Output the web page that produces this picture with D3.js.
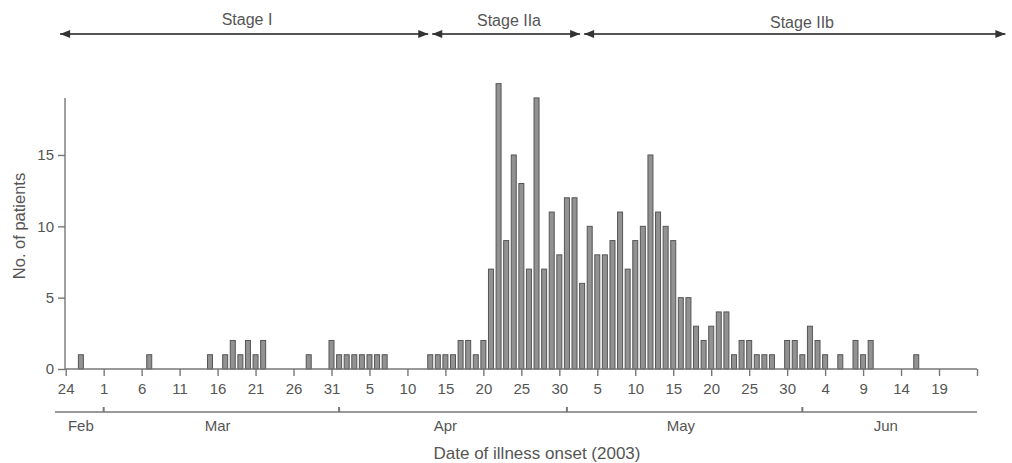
<!DOCTYPE html>
<html>
  <head>
    <title>SARS epidemic curve, Taiwan 2003</title>
    <meta charset="utf-8">
    <script type="text/javascript" src="https://d3js.org/d3.v7.min.js"></script>
    <style>
      body { margin: 0; background: #fff; }
      svg text { font-family: "Liberation Sans", Arial, sans-serif; fill: #555; }
    </style>
  </head>

  <body>
    <svg></svg>

    <script type="text/javascript">
      "use strict";

      // onset dates (2003) and number of patients on that day
      var onsetDates = [
        '02-26', '03-07', '03-15', '03-17', '03-18', '03-19', '03-20', '03-21', '03-22',
        '03-28', '03-31', '04-01', '04-02', '04-03', '04-04', '04-05', '04-06', '04-07',
        '04-13', '04-14', '04-15', '04-16', '04-17', '04-18', '04-19', '04-20', '04-21',
        '04-22', '04-23', '04-24', '04-25', '04-26', '04-27', '04-28', '04-29', '04-30',
        '05-01', '05-02', '05-03', '05-04', '05-05', '05-06', '05-07', '05-08', '05-09',
        '05-10', '05-11', '05-12', '05-13', '05-14', '05-15', '05-16', '05-17', '05-18',
        '05-19', '05-20', '05-21', '05-22', '05-23', '05-24', '05-25', '05-26', '05-27',
        '05-28', '05-30', '05-31', '06-01', '06-02', '06-03', '06-04', '06-06', '06-08',
        '06-09', '06-10', '06-16'
      ];
      var patients = [
        1, 1, 1, 1, 2, 1, 2, 1, 2,
        1, 2, 1, 1, 1, 1, 1, 1, 1,
        1, 1, 1, 1, 2, 2, 1, 2, 7,
        20, 9, 15, 13, 7, 19, 7, 11, 8,
        12, 12, 6, 10, 8, 8, 9, 11, 7,
        9, 10, 15, 11, 10, 9, 5, 5, 3,
        2, 3, 4, 4, 1, 2, 2, 1, 1,
        1, 2, 2, 1, 3, 2, 1, 1, 2,
        1, 2, 1
      ];

      // day ticks every 5 days, the last one has no label
      var dayTicks = [
        '02-24', '03-01', '03-06', '03-11', '03-16', '03-21', '03-26', '03-31',
        '04-05', '04-10', '04-15', '04-20', '04-25', '04-30', '05-05', '05-10',
        '05-15', '05-20', '05-25', '05-30', '06-04', '06-09', '06-14', '06-19', '06-24'
      ];
      var monthTicks = ['03-01', '04-01', '05-01', '06-01'];
      var monthNames = ['Feb', 'Mar', 'Apr', 'May', 'Jun'];
      var monthLabelAt = ['02-26', '03-16', '04-15', '05-16', '06-12'];
      var yTicks = [0, 5, 10, 15];

      var stageNames = ['Stage I', 'Stage IIa', 'Stage IIb'];
      var stageStart = ['02-23', '04-13', '05-03'];
      var stageEnd = ['04-13', '05-03', '06-28'];

      var parse = function(s) { return d3.timeParse('%Y-%m-%d')('2003-' + s); };

      var width = 1012, height = 463;
      var svg = d3.select('svg')
                  .attr('width', width)
                  .attr('height', height);

      var x = d3.scaleTime()
                .domain([parse('02-24'), parse('06-24')])
                .range([65.7, 977]);
      var y = d3.scaleLinear()
                .domain([0, 19])
                .range([369, 97.9]);

      var axisColor = '#777';
      var barW = 5;

      // bars
      svg.append('g').selectAll('rect')
         .data(onsetDates)
         .enter().append('rect')
         .attr('x', function(d) { return x(parse(d)) - barW / 2; })
         .attr('y', function(d, i) { return y(patients[i]); })
         .attr('width', barW)
         .attr('height', function(d, i) { return y(0) - y(patients[i]); })
         .attr('fill', '#929292')
         .attr('stroke', '#555')
         .attr('stroke-width', 1);

      // y axis
      var yAxis = svg.append('g')
                     .attr('transform', 'translate(65,0)')
                     .call(d3.axisLeft(y).tickValues(yTicks).tickSize(7).tickPadding(4));
      yAxis.select('.domain').attr('d', 'M0,' + y(19) + 'V' + y(0));

      // x axis (days)
      var xAxis = svg.append('g')
                     .attr('transform', 'translate(0,' + y(0) + ')')
                     .call(d3.axisBottom(x)
                             .tickValues(dayTicks.map(parse))
                             .tickSize(7)
                             .tickPadding(7)
                             .tickFormat(function(d, i) {
                               return i === dayTicks.length - 1 ? '' : d3.timeFormat('%-d')(d);
                             }));
      xAxis.select('.domain').attr('d', 'M65,0H977');

      [xAxis, yAxis].forEach(function(a) {
        a.selectAll('.domain, line').attr('stroke', axisColor).attr('stroke-width', 1.4);
        a.selectAll('text').style('font-size', '15px').attr('fill', '#555');
      });

      // month band under the day ticks
      var monthY = 412;
      svg.append('line')
         .attr('x1', 55).attr('x2', 977)
         .attr('y1', monthY).attr('y2', monthY)
         .attr('stroke', axisColor).attr('stroke-width', 1.4);
      svg.append('g').selectAll('line')
         .data(monthTicks)
         .enter().append('line')
         .attr('x1', function(d) { return x(parse(d)); })
         .attr('x2', function(d) { return x(parse(d)); })
         .attr('y1', monthY).attr('y2', monthY - 5)
         .attr('stroke', axisColor).attr('stroke-width', 2);
      svg.append('g').selectAll('text')
         .data(monthNames)
         .enter().append('text')
         .attr('x', function(d, i) { return x(parse(monthLabelAt[i])); })
         .attr('y', 431)
         .attr('text-anchor', 'middle')
         .style('font-size', '15px')
         .text(function(d) { return d; });

      // axis titles
      svg.append('text')
         .attr('x', 537).attr('y', 459)
         .attr('text-anchor', 'middle')
         .style('font-size', '17px')
         .text('Date of illness onset (2003)');
      svg.append('text')
         .attr('transform', 'translate(25,226) rotate(-90)')
         .attr('text-anchor', 'middle')
         .style('font-size', '16.5px')
         .text('No. of patients');

      // stage arrows
      var defs = svg.append('defs');
      ['end', 'start'].forEach(function(k) {
        defs.append('marker')
            .attr('id', 'arr-' + k)
            .attr('viewBox', '0 0 10 8')
            .attr('refX', k === 'end' ? 10 : 0).attr('refY', 4)
            .attr('markerWidth', 11).attr('markerHeight', 8)
            .attr('markerUnits', 'userSpaceOnUse')
            .attr('orient', 'auto')
            .append('path')
            .attr('d', k === 'end' ? 'M0,0L10,4L0,8Z' : 'M10,0L0,4L10,8Z')
            .attr('fill', '#333');
      });
      var arrowY = 34;
      var stages = svg.append('g').selectAll('g')
                      .data(stageNames)
                      .enter().append('g');
      stages.append('line')
            .attr('x1', function(d, i) { return x(parse(stageStart[i])) + 2; })
            .attr('x2', function(d, i) { return x(parse(stageEnd[i])) - 2; })
            .attr('y1', arrowY).attr('y2', arrowY)
            .attr('stroke', '#555').attr('stroke-width', 1.8)
            .attr('marker-start', 'url(#arr-start)')
            .attr('marker-end', 'url(#arr-end)');
      stages.append('text')
            .attr('x', function(d, i) {
              return [247, 509, 802][i];
            })
            .attr('y', function(d, i) { return [25, 26, 28][i]; })
            .attr('text-anchor', 'middle')
            .style('font-size', '16px')
            .text(function(d) { return d; });
    </script>
  </body>
</html>
